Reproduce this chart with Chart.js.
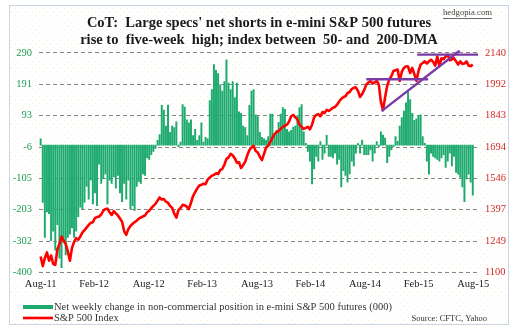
<!DOCTYPE html>
<html lang="en">
<head>
<meta charset="UTF-8">
<title>CoT: Large specs' net shorts in e-mini S&amp;P 500 futures</title>
<style>
  html, body { margin: 0; padding: 0; background: #fff; }
  #wrap { width: 518px; height: 336px; }
</style>
</head>
<body>
<div id="wrap"><canvas id="chart" width="518" height="336"></canvas></div>
<script src="https://cdn.jsdelivr.net/npm/chart.js@4.4.1/dist/chart.umd.min.js"></script>
<script>
// weekly net change, non-commercial e-mini S&P 500 futures (000), Aug-11 .. Aug-15
const netChange = [
  20, -180, -290, -210, -215, -300, -270, -330, -250, -355,
  -385, -300, -345, -290, -280, -260, -290, -270, -225, -195,
  -200, -180, -130, -170, -110, -185, -150, -190, -60, -120,
  -105, -90, -185, -110, -120, -100, -135, -95, -150, -178,
  -120, -170, -110, -200, -190, -205, -130, -115, -120, -90,
  -95, -40, -45, -30, -20, -10, 15, 33, 125, 110,
  60, 126, 40, 60, 55, 73, -5, 10, 128, 120,
  80, 70, 80, 30, 50, 15, 30, 70, 10, 25,
  20, 140, 175, 253, 235, 225, 190, 170, 200, 268,
  195, 175, 200, 150, 195, 105, 100, 60, 55, 30,
  125, 170, 175, 95, 90, 40, 25, 20, 15, 27,
  98, 98, 32, 47, 72, 98, 118, 113, 50, 42,
  47, 57, 60, 93, 118, 128, 42, 6, -20, -50,
  -122, -75, -35, -50, 11, -45, -25, 31, -35, -35,
  -40, -25, -60, -45, -131, -80, -95, -116, -90, -50,
  -65, -25, 5, -25, 16, -30, -30, -30, -15, -50,
  -25, 11, -5, 42, 32, 22, -55, -35, -15, -5,
  27, 12, 60, 87, 107, 133, 168, 143, 100, 78,
  83, 93, 95, 27, 6, -50, -91, -25, -35, -40,
  -45, -50, -40, -30, -70, -50, -25, -65, -35, -86,
  -91, -101, -131, -178, -106, -91, -116, -157
];

// S&P 500 index, same weeks
const spx = [
  1175, 1130, 1168, 1195, 1155, 1180, 1140, 1135, 1210, 1235,
  1270, 1250, 1235, 1200, 1155, 1215, 1245, 1262, 1255, 1270,
  1290, 1300, 1312, 1325, 1335, 1338, 1358, 1362, 1365, 1375,
  1392, 1400, 1402, 1385, 1372, 1390, 1380, 1370, 1355, 1340,
  1295, 1278, 1305, 1320, 1330, 1338, 1345, 1355, 1360, 1365,
  1370, 1385, 1392, 1405, 1415, 1425, 1440, 1455, 1445, 1448,
  1435, 1430, 1415, 1405, 1378, 1360, 1395, 1405, 1420, 1418,
  1412, 1400, 1430, 1462, 1480, 1498, 1512, 1515, 1520, 1518,
  1540, 1550, 1558, 1562, 1570, 1566, 1585, 1590, 1610, 1638,
  1645, 1662, 1655, 1640, 1620, 1622, 1595, 1608, 1625, 1655,
  1680, 1692, 1700, 1675, 1668, 1648, 1632, 1662, 1692, 1700,
  1718, 1738, 1755, 1765, 1770, 1780, 1790, 1795, 1800, 1815,
  1840, 1846, 1835, 1825, 1800, 1790, 1780, 1785, 1790, 1778,
  1800, 1835, 1846, 1850, 1840, 1860, 1855, 1870, 1865, 1872,
  1880, 1884, 1895, 1910, 1923, 1930, 1935, 1950, 1955, 1969,
  1975, 1977, 1960, 1931, 1945, 1965, 1990, 2000, 2007, 1995,
  2000, 2007, 1990, 1907, 1869, 1930, 1984, 2015, 2030, 2054,
  2058, 2061, 2007, 2050, 2069, 2077, 2075, 2045, 2069, 2040,
  2007, 2054, 2085, 2092, 2100, 2090, 2100, 2108, 2098, 2080,
  2123, 2077, 2115, 2110, 2123, 2131, 2105, 2110, 2115, 2100,
  2085, 2100, 2088, 2090, 2100, 2080, 2077, 2085
];

const xTickWeeks = [0, 25.6, 51.8, 77.4, 103.6, 129.2, 155.4, 181, 207.2];
const xTickLabels = ['Aug-11', 'Feb-12', 'Aug-12', 'Feb-13', 'Aug-13', 'Feb-14', 'Aug-14', 'Feb-15', 'Aug-15'];
const leftTicks = [290, 191, 93, -6, -105, -203, -302, -400];
const rightTicks = [2140, 1992, 1843, 1694, 1546, 1397, 1249, 1100];

// purple trend lines on the index: [week, week] / [level, level]
const resistWeeks = [180.4, 209.5];
const resistLevels = [2132, 2132];
const rangeWeeks = [156, 185.6];
const rangeLevels = [2015, 2015];
const supportWeeks = [163.3, 200.7];
const supportLevels = [1864, 2150];

const toPoints = (xs, ys) => xs.map((x, i) => ({ x: x, y: ys[i] }));
const serif = "'Liberation Serif', 'Times New Roman', serif";
const purple = '#7a3aa6';

// frame + faint dotted background, hand-drawn legend and notes
const framePlugin = {
  id: 'frame',
  beforeDraw(chart) {
    const ctx = chart.ctx;
    ctx.save();
    ctx.fillStyle = '#ffffff';
    ctx.fillRect(0, 0, chart.width, chart.height);
    const tile = document.createElement('canvas');
    tile.width = 7; tile.height = 7;
    const t = tile.getContext('2d');
    t.fillStyle = 'rgba(225, 220, 150, 0.45)';
    t.fillRect(1, 1, 1, 1);
    t.fillRect(4, 5, 1, 1);
    ctx.fillStyle = ctx.createPattern(tile, 'repeat');
    ctx.fillRect(10, 6, 498, 318);
    ctx.strokeStyle = '#c9d5e3';
    ctx.lineWidth = 1;
    ctx.strokeRect(9.5, 5.5, 499, 319);
    ctx.restore();
  },
  afterDraw(chart) {
    const ctx = chart.ctx;
    ctx.save();
    const items = chart.data.datasets.filter(d => d.legendRow !== undefined)
      .sort((a, b) => a.legendRow - b.legendRow);
    items.forEach((d, i) => {
      const y = 307 + i * 11;
      if (d.type === 'line') {
        ctx.fillStyle = d.borderColor;
        ctx.fillRect(23, y - 1.3, 30, 2.6);
      } else {
        ctx.fillStyle = d.backgroundColor;
        ctx.fillRect(23, y - 2, 30, 4);
      }
      ctx.fillStyle = '#333';
      ctx.font = '10.5px ' + serif;
      ctx.textAlign = 'left';
      ctx.textBaseline = 'middle';
      ctx.fillText(d.label, 54, y);
    });
    ctx.font = '8.5px ' + serif;
    ctx.textAlign = 'right';
    ctx.fillStyle = '#333';
    ctx.fillText('Source: CFTC, Yahoo', 487, 319);
    ctx.font = '8.7px ' + serif;
    ctx.fillStyle = '#444';
    ctx.fillText('hedgopia.com', 492, 13);
    ctx.fillRect(443, 18, 49, 0.8);
    ctx.restore();
  }
};

new Chart(document.getElementById('chart'), {
  type: 'bar',
  data: {
    datasets: [
      {
        type: 'line', label: 'resistance', data: toPoints(resistWeeks, resistLevels),
        yAxisID: 'yR', borderColor: purple, borderWidth: 2.4, pointRadius: 0, order: 0, clip: 4
      },
      {
        type: 'line', label: 'range', data: toPoints(rangeWeeks, rangeLevels),
        yAxisID: 'yR', borderColor: purple, borderWidth: 2.4, pointRadius: 0, order: 0, clip: 4
      },
      {
        type: 'line', label: 'support', data: toPoints(supportWeeks, supportLevels),
        yAxisID: 'yR', borderColor: purple, borderWidth: 2.4, pointRadius: 0, order: 0, clip: 4
      },
      {
        type: 'line', label: 'S&P 500 Index', legendRow: 1,
        data: spx.map((v, i) => ({ x: i, y: v })),
        yAxisID: 'yR', borderColor: '#ff0000', borderWidth: 2.6, pointRadius: 0,
        tension: 0, borderJoinStyle: 'round', order: 1
      },
      {
        type: 'bar', label: 'Net weekly change in non-commercial position in e-mini S&P 500 futures (000)',
        legendRow: 0,
        data: netChange.map((v, i) => ({ x: i, y: v })),
        yAxisID: 'y', backgroundColor: '#1caa6e', barThickness: 1.3, order: 2
      }
    ]
  },
  options: {
    responsive: false,
    animation: false,
    devicePixelRatio: 1,
    layout: { padding: { left: 0, right: 0, top: 0, bottom: 39 } },
    plugins: {
      legend: { display: false },
      tooltip: { enabled: false },
      title: {
        display: true,
        text: ["CoT:  Large specs' net shorts in e-mini S&P 500 futures",
               "rise to  five-week  high; index between  50- and  200-DMA"],
        color: '#1a1a1a',
        font: { family: serif, size: 14.5, weight: 'bold', lineHeight: 1.17 },
        padding: { top: 14.5, bottom: 4.5 }
      }
    },
    scales: {
      x: {
        type: 'linear', min: -0.8, max: 209.5, offset: false,
        grid: { display: false, drawTicks: false },
        border: { display: false },
        afterBuildTicks: s => { s.ticks = xTickWeeks.map(v => ({ value: v })); },
        ticks: {
          autoSkip: false, maxRotation: 0, padding: 6, color: '#222',
          font: { family: serif, size: 10.5 },
          callback: (v, i) => xTickLabels[i]
        }
      },
      y: {
        position: 'left', min: -400, max: 290,
        afterBuildTicks: s => { s.ticks = leftTicks.map(v => ({ value: v })); },
        afterFit: s => { s.width = 39; },
        grid: { color: '#858585', lineWidth: 1, drawTicks: false },
        border: { display: false, dash: [4, 3] },
        ticks: {
          padding: 7, color: '#1f9c55', font: { family: serif, size: 10.5 },
          callback: v => String(v)
        }
      },
      yR: {
        position: 'right', min: 1100, max: 2140,
        afterBuildTicks: s => { s.ticks = rightTicks.map(v => ({ value: v })); },
        afterFit: s => { s.width = 40; },
        grid: { display: false, drawTicks: false },
        border: { display: false },
        ticks: {
          padding: 7, color: '#d42a2a', font: { family: serif, size: 10.5 },
          callback: v => String(v)
        }
      }
    }
  },
  plugins: [framePlugin]
});
</script>
</body>
</html>
